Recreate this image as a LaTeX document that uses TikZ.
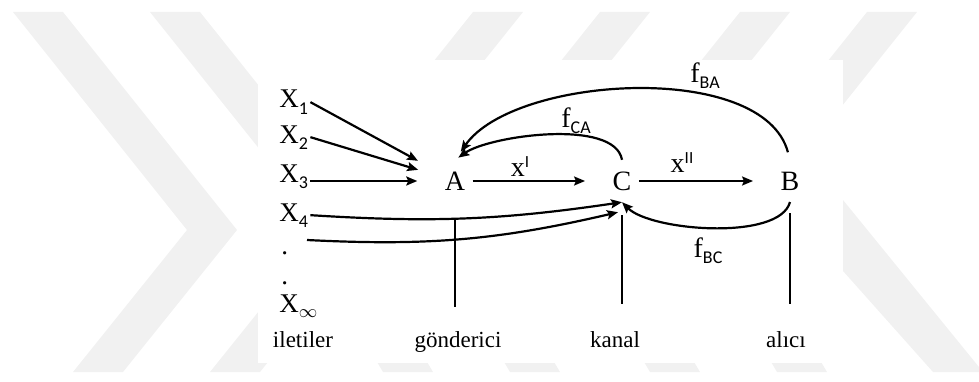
\documentclass[tikz,border=0pt]{standalone}
\usepackage{fontspec}
\setmainfont{Liberation Serif}
\newfontfamily\calfont{Carlito}
\usetikzlibrary{arrows.meta}
\definecolor{markgray}{rgb}{0.945,0.945,0.945}
\newcommand{\subsc}[1]{\raisebox{-3pt}{\calfont\fontsize{9}{10}\selectfont #1}}
\newcommand{\supsc}[1]{\raisebox{4.5pt}{\calfont\fontsize{8.5}{9}\selectfont #1}}
\tikzset{
  xin/.style={anchor=base west, inner sep=1pt, font=\fontsize{13.5}{15}\selectfont},
  role/.style={anchor=base, inner sep=1pt, font=\fontsize{11.5}{13}\selectfont},
  party/.style={inner xsep=3.6pt, inner ysep=5.7pt, font=\fontsize{14}{16}\selectfont},
  lbl/.style={inner sep=1pt, font=\fontsize{14}{16}\selectfont},
  arr/.style={line width=1.1pt, -{Stealth[length=5.5pt,width=4.5pt,inset=1pt]}},
  feed/.style={arr, shorten >=10pt},
  sep/.style={line width=0.8pt},
  wmark/.style={fill=markgray}
}

\begin{document}
\begin{tikzpicture}[x=0.5pt,y=0.5pt]
        \useasboundingbox (0,0) rectangle (979,381);
        % watermark
        \begin{scope}
          \clip (0,0) rectangle (979,381);
          \foreach \a in {13,150}
            \fill[wmark] (\a,369) -- (\a+50,369) -- (\a+224,151) -- (\a+110,9) -- (\a+60,9) -- (\a+174,151) -- cycle;
          \foreach \b in {473,600,740,867}
            \fill[wmark] (\b,369) -- (\b+50,369) -- (\b-124,151) -- (\b-40,9) -- (\b-90,9) -- (\b-174,151) -- cycle;
          \fill[wmark] (843,181) -- (843,110) -- (933,9) -- (983,9) -- cycle;
        \end{scope}
        \fill[white] (258,18) rectangle (843,321);

        % messages
        \node[xin] (x1) at (277,273) {X\subsc{1}};
        \node[xin] (x2) at (277,238) {X\subsc{2}};
        \node[xin] (x3) at (277,199) {X\subsc{3}};
        \node[xin] (x4) at (277,160) {X\subsc{4}};
        \node[xin] (d1) at (279,127) {.};
        \node[xin] (d2) at (279,97) {.};
        \node[xin] (xinf) at (277,69) {X\raisebox{-2.5pt}{$\scriptstyle\infty$}};
        \coordinate (dts) at (307,141);

        % parties
        \node[party] (A) at (455,200) {A};
        \node[party] (C) at (622,200) {C};
        \node[party] (B) at (790,200) {B};

        % roles
        \node[role] (ilet) at (303,34) {iletiler};
        \node[role] (gon) at (458,34) {gönderici};
        \node[role] (kan) at (615,34) {kanal};
        \node[role] (ali) at (786,34) {alıcı};

        % labels
        \node[lbl] (xI) at (520,214) {x\supsc{I}};
        \node[lbl] (xII) at (682,218) {x\supsc{II}};
        \node[lbl] (fCA) at (576,260) {f\subsc{CA}};
        \node[lbl] (fBA) at (705,305) {f\subsc{BA}};
        \node[lbl] (fBC) at (708,130) {f\subsc{BC}};

        \draw[feed, shorten >=11pt] (x1.east) -- (A);
        \draw[feed] (x2.east) -- (A);
        \draw[feed] (x3.east |- A) -- (A);
        \draw[arr] (x4.east) to[bend right=6] (C.south);
        \draw[arr] (dts) to[bend right=8] ([xshift=-2pt,yshift=-5pt]C.south);
        \draw[feed] (A) -- (C);
        \draw[feed] (C) -- (B);
        \draw[arr, shorten >=2pt] (C.north) to[out=100,in=35,looseness=0.65] (A.north);
        \draw[arr, shorten <=4pt, shorten >=5pt] (B.north) to[out=105,in=55,looseness=0.79] (A.north);
        \draw[arr] (B.south) to[out=-105,in=-45,looseness=0.62] (C.south);

        \draw[sep, shorten <=8pt, shorten >=11pt] (A.south) -- (A.south |- gon.north);
        \draw[sep, shorten <=6.5pt, shorten >=12.5pt] (C.south) -- (C.south |- kan.north);
        \draw[sep, shorten <=5.5pt, shorten >=12.5pt] (B.south) -- (B.south |- ali.north);
\end{tikzpicture}
\end{document}
